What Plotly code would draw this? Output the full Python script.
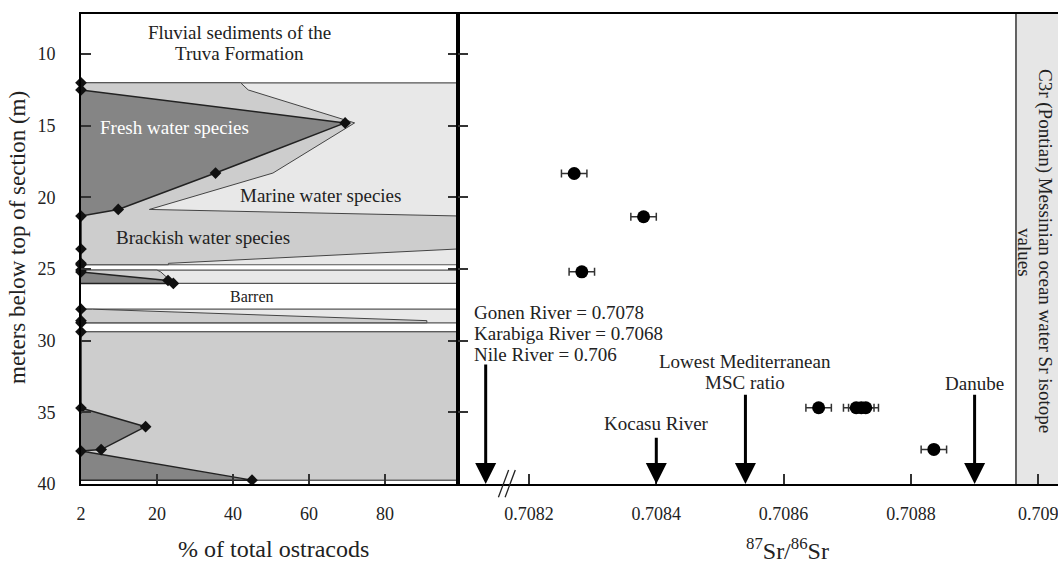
import plotly.graph_objects as go

# ---------------- data: ostracod assemblages (left panel) ----------------
# each zone: sample depths (m), cumulative fresh %, cumulative fresh+brackish %
zoneA_depth = [12.0, 12.5, 14.8, 18.3, 20.84, 21.3, 23.6, 24.6, 24.7]
zoneA_fresh = [0, 0, 69.5, 35.4, 9.8, 0, 0, 0, 0]
zoneA_cum = [42, 44, 72, 50.5, 18, 100, 99, 23, 23]

zoneB_depth = [25.07, 25.2, 25.8, 26.0]
zoneB_fresh = [0, 0, 22.9, 24.3]
zoneB_cum = [20, 21, 23.5, 25.5]

zoneC_depth = [27.8, 28.6, 28.75]
zoneC_fresh = [0, 0, 0]
zoneC_cum = [3, 91, 91]

zoneD_depth = [29.38, 34.7, 36.0, 37.6, 37.7, 39.73]
zoneD_fresh = [0, 0, 17, 5.3, 0, 45]
zoneD_cum = [100, 100, 100, 100, 100, 100]

pct_ticks = [0, 20, 40, 60, 80]
pct_ticktext = ["2", "20", "40", "60", "80"]
depth_ticks = [10, 15, 20, 25, 30, 35, 40]

# ---------------- data: Sr isotopes (right panel) ----------------
sr_values = [0.708271, 0.708380, 0.708283, 0.708655, 0.708714, 0.708722, 0.708729, 0.708836]
sr_depths = [18.33, 21.35, 25.19, 34.68, 34.68, 34.68, 34.68, 37.59]
sr_err = [0.00002] * 8

sr_ticks = [0.7082, 0.7084, 0.7086, 0.7088, 0.709]
sr_ticktext = ["0.7082", "0.7084", "0.7086", "0.7088", "0.709"]

# reference ratios shown by arrows: (x value, tail depth)
nile_x, nile_tail = 0.708132, 31.56
kocasu_x, kocasu_tail = 0.7084, 36.66
msc_x, msc_tail = 0.70854, 33.66
danube_x, danube_tail = 0.7089, 33.66
ocean_band_start = 0.708965
break_x = 0.708160

FRESH = "#858585"
BRACK = "#cdcdcd"
MARINE = "#e8e8e8"
FONT = "Liberation Serif, Times New Roman, serif"

fig = go.Figure()

zones = [
    (zoneA_depth, zoneA_fresh, zoneA_cum),
    (zoneB_depth, zoneB_fresh, zoneB_cum),
    (zoneC_depth, zoneC_fresh, zoneC_cum),
    (zoneD_depth, zoneD_fresh, zoneD_cum),
]
for d, f, c in zones:
    top, bot = d[0], d[-1]
    fig.add_trace(go.Scatter(x=[0, 100, 100, 0, 0], y=[top, top, bot, bot, top],
                             fill="toself", fillcolor=MARINE, mode="lines",
                             line=dict(color="#555", width=1.2),
                             hoverinfo="skip", showlegend=False))
    fig.add_trace(go.Scatter(x=[0] + c + [0], y=[top] + d + [bot],
                             fill="toself", fillcolor=BRACK, mode="lines",
                             line=dict(color="#444", width=1),
                             hoverinfo="skip", showlegend=False))
    fig.add_trace(go.Scatter(x=[0] + f + [0], y=[top] + d + [bot],
                             fill="toself", fillcolor=FRESH, mode="lines",
                             line=dict(color="#222", width=1.5),
                             hoverinfo="skip", showlegend=False))
    fig.add_trace(go.Scatter(x=f, y=d, mode="markers", cliponaxis=False,
                             marker=dict(symbol="diamond", size=9, color="#111"),
                             hoverinfo="skip", showlegend=False))

# Sr isotope points
fig.add_trace(go.Scatter(x=sr_values, y=sr_depths, xaxis="x2", yaxis="y2",
                         mode="markers", marker=dict(color="black", size=13),
                         error_x=dict(type="data", array=sr_err, color="#333",
                                      thickness=1.5, width=4),
                         showlegend=False))

axis_common = dict(showgrid=False, zeroline=False, showline=True, linecolor="black",
                   linewidth=2, ticks="inside", ticklen=10, tickcolor="#333",
                   tickwidth=1.5, automargin=False, ticklabeloverflow="allow",
                   tickfont=dict(family=FONT, size=18, color="#222"))

y_dom = [1 - 484 / 564, 1 - 14 / 564]
fig.update_layout(
    width=1058, height=564,
    margin=dict(l=0, r=0, t=0, b=0, pad=0),
    paper_bgcolor="white", plot_bgcolor="white",
    font=dict(family=FONT, color="#222"),
    xaxis=dict(domain=[81 / 1058, 458 / 1058], range=[0, 99.2], tickvals=pct_ticks,
               ticktext=pct_ticktext, mirror=True, ticklabelstandoff=12, **axis_common),
    yaxis=dict(domain=y_dom, range=[40, 7.2], tickvals=depth_ticks, mirror="ticks",
               ticklabelstandoff=20, **axis_common),
    xaxis2=dict(domain=[458 / 1058, 1], anchor="y2", range=[0.7080885, 0.709031],
                tickvals=sr_ticks, ticktext=sr_ticktext, mirror=True,
                ticklabelstandoff=12, **axis_common),
    yaxis2=dict(domain=y_dom, anchor="x2", range=[40, 7.2], tickvals=depth_ticks[:-1],
                showticklabels=False, **axis_common),
)

# ocean water band on the right
fig.add_shape(type="rect", xref="x2", yref="y2 domain", x0=ocean_band_start, x1=0.7091,
              y0=0, y1=1, fillcolor="#e6e6e6", line=dict(width=0), layer="below")
fig.add_shape(type="line", xref="x2", yref="y2 domain", x0=ocean_band_start,
              x1=ocean_band_start, y0=0, y1=1, line=dict(color="#333", width=1.5))

# axis break marks
for off in [0.0, 0.0000105]:
    fig.add_shape(type="line", xref="x2", yref="y2 domain",
                  x0=break_x - 0.000008 + off, x1=break_x + 0.000008 + off,
                  y0=-0.028, y1=0.03, line=dict(color="#222", width=1.3))

# arrows
for xv, tail in [(nile_x, nile_tail), (kocasu_x, kocasu_tail),
                 (msc_x, msc_tail), (danube_x, danube_tail)]:
    fig.add_annotation(x=xv, y=40, ax=xv, ay=tail, xref="x2", yref="y2",
                       axref="x2", ayref="y2", text="", showarrow=True,
                       arrowhead=2, arrowsize=1.4, arrowwidth=3, arrowcolor="black")

txt = dict(family=FONT, size=19, color="#222")
ann = [
    dict(x=0.70811, y=28.0, xref="x2", yref="y2", xanchor="left", text="Gonen River = 0.7078"),
    dict(x=0.70811, y=29.47, xref="x2", yref="y2", xanchor="left", text="Karabiga River = 0.7068"),
    dict(x=0.70811, y=30.93, xref="x2", yref="y2", xanchor="left", text="Nile River = 0.706"),
    dict(x=msc_x, y=31.48, xref="x2", yref="y2", text="Lowest Mediterranean"),
    dict(x=msc_x, y=32.94, xref="x2", yref="y2", text="MSC ratio"),
    dict(x=kocasu_x, y=35.75, xref="x2", yref="y2", text="Kocasu River"),
    dict(x=danube_x, y=32.96, xref="x2", yref="y2", text="Danube"),
    dict(x=41.6, y=8.5, xref="x", yref="y", text="Fluvial sediments of the"),
    dict(x=41.6, y=9.95, xref="x", yref="y", text="Truva Formation"),
    dict(x=24.5, y=15.15, xref="x", yref="y", text="Fresh water species",
         font=dict(family=FONT, size=19, color="white")),
    dict(x=62.9, y=19.84, xref="x", yref="y", text="Marine water species"),
    dict(x=32, y=22.77, xref="x", yref="y", text="Brackish water species"),
    dict(x=44.9, y=26.9, xref="x", yref="y", text="Barren",
         font=dict(family=FONT, size=16, color="#222")),
    dict(x=1045 / 1058, y=1 - 251 / 564, xref="paper", yref="paper", textangle=90,
         xanchor="center", yanchor="middle",
         text="C3r (Pontian) Messinian ocean water Sr isotope"),
    dict(x=1025 / 1058, y=1 - 252 / 564, xref="paper", yref="paper", textangle=90,
         xanchor="center", yanchor="middle", text="values"),
    dict(x=273 / 1058, y=1 - 549 / 564, xref="paper", yref="paper", text="% of total ostracods",
         xanchor="center", yanchor="middle", font=dict(family=FONT, size=24, color="#222")),
    dict(x=787 / 1058, y=1 - 549 / 564, xref="paper", yref="paper",
         xanchor="center", yanchor="middle",
         text="<sup>87</sup>Sr/<sup>86</sup>Sr", font=dict(family=FONT, size=24, color="#222")),
    dict(x=17 / 1058, y=1 - 238 / 564, xref="paper", yref="paper", textangle=-90,
         xanchor="center", yanchor="middle",
         text="meters below top of section (m)", font=dict(family=FONT, size=23, color="#222")),
]
for a in ann:
    a.setdefault("font", txt)
    a.setdefault("showarrow", False)
    fig.add_annotation(**a)

fig.write_html("out.html", config={"displayModeBar": False},
               post_script="document.body.style.margin='0';")
